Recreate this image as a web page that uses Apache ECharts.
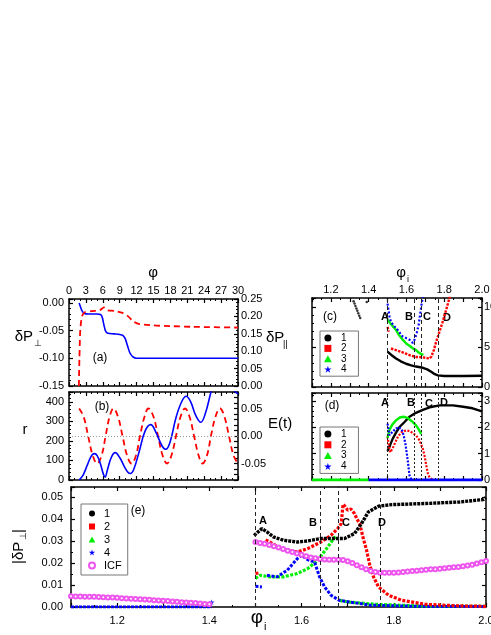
<!DOCTYPE html>
<html>
<head>
<meta charset="utf-8">
<script src="https://cdn.jsdelivr.net/npm/echarts@6/dist/echarts.min.js"></script>
<style>html,body{margin:0;padding:0;background:#fff}#chart{width:491px;height:635px}</style>
</head>
<body>
<div id="chart"></div>
<script>
// ---- values ----
// (a) delta P perp (left axis) and delta P parallel (right axis) vs phi
const aPerp = [[1.8,0.0],[2.0,-0.006],[2.3,-0.014],[2.7,-0.019],[3.5,-0.02],[5.0,-0.02],[5.6,-0.021],[5.9,-0.026],[6.2,-0.04],[6.5,-0.051],[6.9,-0.055],[8.0,-0.056],[9.0,-0.057],[9.6,-0.059],[10.0,-0.065],[10.4,-0.078],[10.8,-0.09],[11.3,-0.097],[12.0,-0.1],[16,-0.1],[30,-0.1]];
const aPar = [[1.75,0.0],[1.85,0.08],[2.0,0.16],[2.3,0.2],[2.8,0.212],[4,0.215],[5.5,0.218],[6.2,0.226],[6.8,0.218],[8,0.216],[9.5,0.21],[10.5,0.2],[11.5,0.185],[12.5,0.178],[15,0.174],[18,0.172],[22,0.17],[30,0.168]];
// (b) r (left) and E(t) (right)
const bR = [[1.8,0],[2.5,25],[3.3,80],[4.0,125],[4.5,135],[5.0,125],[5.6,80],[6.1,30],[6.4,15],[6.8,50],[7.5,115],[8.2,140],[9.0,115],[9.8,70],[10.5,38],[10.9,33],[11.5,55],[12.5,150],[13.5,250],[14.5,283],[15.5,240],[16.5,175],[17.2,157],[18,200],[19,320],[20,400],[20.8,428],[21.6,400],[22.5,330],[23.4,295],[24.2,340],[25.2,450],[26,530],[27,560],[28.3,505],[29.4,455],[30,440]];
const bE = [[1.8,0.05],[2.6,0.035],[3.4,0.0],[4.2,-0.035],[5.0,-0.05],[5.8,-0.035],[6.5,0.0],[7.2,0.035],[7.9,0.05],[8.7,0.035],[9.5,0.0],[10.3,-0.035],[11.1,-0.05],[11.9,-0.035],[12.6,0.0],[13.4,0.035],[14.1,0.05],[15.0,0.035],[15.8,0.0],[16.6,-0.035],[17.4,-0.05],[18.2,-0.035],[19.0,0.0],[19.8,0.035],[20.6,0.05],[21.4,0.035],[22.2,0.0],[23.0,-0.035],[23.7,-0.05],[24.5,-0.035],[25.2,0.0],[26.0,0.035],[26.8,0.05],[27.6,0.035],[28.4,0.0],[29.2,-0.035],[30,-0.05]];
// (c)
const cStray = [[1.32,10.7],[1.325,10.4],[1.33,10.1],[1.335,9.8],[1.34,9.5],[1.345,9.2],[1.35,8.9],[1.355,8.6],[1.39,10.6]];
const c1 = [[1.5,4.4],[1.52,4.0],[1.545,3.55],[1.57,3.2],[1.598,2.9],[1.625,2.7],[1.651,2.55],[1.687,2.4],[1.71,2.2],[1.731,1.9],[1.75,1.6],[1.766,1.45],[1.8,1.38],[1.9,1.38],[2.0,1.4]];
const c2 = [[1.5,7.5],[1.506,6.9],['-','-'],[1.518,4.8],[1.545,4.6],[1.57,4.4],[1.598,4.15],[1.625,3.9],[1.651,3.75],[1.687,3.7],[1.71,3.6],[1.722,3.55],[1.732,3.8],[1.745,4.6],[1.757,5.6],[1.772,6.7],[1.79,8.0],[1.81,9.6],[1.83,11.3]];
const c3 = [[1.5,8.4],[1.52,7.8],[1.545,7.1],[1.56,6.5],[1.58,5.9],[1.6,5.4],[1.616,5.15],[1.635,4.8],[1.651,4.6],[1.665,4.3],[1.678,4.1],[1.69,4.0]];
const c4 = [[1.5,10.4],[1.505,9.6],[1.51,8.8],[1.518,8.1],[1.535,7.6],[1.554,7.1],[1.57,6.6],[1.58,6.3],[1.598,6.1],[1.616,5.9],[1.634,5.5],[1.645,6.0],[1.655,6.8],[1.665,7.8],[1.672,9.0],[1.68,10.3],[1.687,11.3]];
// (d)
const d1 = [[1.5,1.1],[1.515,1.35],[1.527,1.56],[1.545,1.8],[1.562,2.0],[1.59,2.2],[1.616,2.4],[1.65,2.55],[1.687,2.66],[1.73,2.77],[1.775,2.83],[1.846,2.83],[1.9,2.78],[1.95,2.72],[2.0,2.6]];
const d2 = [[1.5,1.65],[1.507,1.3],[1.515,1.05],[1.53,1.25],[1.555,1.65],[1.575,1.82],[1.598,1.88],[1.62,1.85],[1.651,1.69],[1.67,1.5],[1.678,1.43],[1.688,1.15],[1.696,0.91],[1.705,0.55],[1.713,0.26],[1.722,0.1],[1.73,0.03],[1.74,0.0],[2.0,0.0]];
const d3 = [[1.5,1.6],[1.51,1.9],[1.525,2.1],[1.545,2.27],[1.565,2.37],[1.585,2.4],[1.605,2.36],[1.625,2.25],[1.65,2.08],[1.665,1.92],[1.678,1.75]];
const d4 = [[1.5,2.14],[1.505,1.9],[1.51,1.7],[1.52,1.75],[1.53,1.85],[1.545,1.95],[1.56,2.0],[1.575,1.92],[1.585,1.7],[1.595,1.35],[1.603,0.95],[1.61,0.55],[1.616,0.18],[1.625,0.03],[1.64,0.0],[2.0,0.0]];
const dBase3 = [[1.1,0],[1.4,0]];
const dBase4 = [[1.4,0],[2.0,0]];
// (e) |delta P perp|
const e1 = [[1.497,0.0325],[1.514,0.0356],[1.525,0.0341],[1.539,0.0318],[1.561,0.0303],[1.591,0.0295],[1.613,0.03],[1.642,0.0311],[1.664,0.0311],[1.693,0.0311],[1.715,0.0334],[1.73,0.0379],[1.745,0.0432],[1.767,0.0458],[1.796,0.0465],[1.869,0.047],[1.943,0.0477],[1.994,0.0488],[2.0,0.0497]];
const e2 = [[1.5,0.0152],[1.508,0.0155],['-','-'],[1.522,0.0305],[1.54,0.0285],[1.554,0.0265],[1.575,0.0255],[1.591,0.025],[1.613,0.0265],[1.642,0.0295],[1.664,0.0326],[1.678,0.0355],[1.686,0.0379],[1.69,0.0467],[1.695,0.0455],[1.70,0.044],[1.707,0.0445],[1.715,0.0424],[1.72,0.04],[1.726,0.0379],[1.734,0.0311],[1.741,0.0258],[1.748,0.019],[1.756,0.0137],[1.767,0.0091],[1.789,0.0053],[1.818,0.003],[1.869,0.0012],[1.943,0.0005],[2.0,0.0003]];
const e3 = [[1.5,0.013],[1.51,0.0144],[1.532,0.0137],[1.561,0.0137],[1.591,0.0152],[1.613,0.0174],[1.635,0.0212],[1.657,0.0273],[1.675,0.0326],['-','-'],[1.682,0.003],[1.70,0.0023],[1.76,0.0012],[1.85,0.0005],[2.0,0.0003]];
const e4 = [[1.5,0.0094],[1.514,0.0091],['-','-'],[1.525,0.0144],[1.547,0.0137],[1.569,0.0167],[1.591,0.022],[1.6,0.0235],[1.613,0.0215],[1.628,0.0205],[1.639,0.0137],[1.65,0.0091],[1.664,0.0053],[1.682,0.003],[1.75,0.0008],[1.85,0.0003],[2.0,0.0002]];
const eBase = [[1.1,0],[1.405,0]];
const eStar = [[1.405,0.0022]];
const eICF = [
  [1.10,0.0049],[1.11,0.0048],[1.12,0.0048],[1.13,0.0047],[1.14,0.0047],[1.15,0.0046],[1.16,0.0045],[1.17,0.0044],[1.18,0.0043],[1.19,0.0043],
  [1.20,0.0042],[1.21,0.0040],[1.22,0.0039],[1.23,0.0037],[1.24,0.0036],[1.25,0.0035],[1.26,0.0034],[1.27,0.0033],[1.28,0.0031],[1.29,0.0030],
  [1.30,0.0028],[1.31,0.0027],[1.32,0.0025],[1.33,0.0024],[1.34,0.0022],[1.35,0.0021],[1.36,0.0019],[1.37,0.0018],[1.38,0.0016],[1.39,0.0014],[1.40,0.0012],
  ['-','-'],
  [1.50,0.0295],[1.51,0.0291],[1.52,0.0287],[1.53,0.0282],[1.54,0.0276],[1.55,0.0270],[1.56,0.0263],[1.57,0.0256],[1.58,0.0250],[1.59,0.0243],
  [1.60,0.0237],[1.61,0.0230],[1.62,0.0225],[1.63,0.0221],[1.64,0.0218],[1.65,0.0216],[1.66,0.0215],[1.67,0.0215],[1.68,0.0215],[1.69,0.0213],
  [1.70,0.0208],[1.71,0.0200],[1.72,0.0190],[1.73,0.0180],[1.74,0.0171],[1.75,0.0164],[1.76,0.0159],[1.77,0.0156],[1.78,0.0155],[1.79,0.0155],
  [1.80,0.0156],[1.81,0.0157],[1.82,0.0159],[1.83,0.0161],[1.84,0.0163],[1.85,0.0165],[1.86,0.0167],[1.87,0.0169],[1.88,0.0171],[1.89,0.0172],
  [1.90,0.0174],[1.91,0.0176],[1.92,0.0178],[1.93,0.0180],[1.94,0.0182],[1.95,0.0185],[1.96,0.0188],[1.97,0.0192],[1.98,0.0197],[1.99,0.0203],[2.00,0.0209]
];
// A, B, C, D marker positions
const vLines = [1.5, 1.64, 1.68, 1.766];

const FONT = '"Liberation Sans", Arial, sans-serif';
const BLUE = '#0000ff', RED = '#ff0000', GREEN = '#00ee00', MAG = '#ee55ee';
const STAR = 'path://M50,0 L61,35 L98,35 L68,57 L79,91 L50,70 L21,91 L32,57 L2,35 L39,35 Z';
const SQUARE = 'path://M0,0 L10,0 L10,10 L0,10 Z';
const TRI = 'path://M5,0 L10,9 L0,9 Z';

function onStep(v, step) { const r = v / step; return Math.abs(r - Math.round(r)) < 1e-6; }
function fmt(step, dec) {
  return v => onStep(v, step) ? (Math.abs(v) < 1e-9 ? 0 : v).toFixed(dec) : '';
}
function vAxis(grid, pos, min, max, interval, minor, label, margin) {
  return {
    type: 'value', gridIndex: grid, position: pos, min: min, max: max, interval: interval,
    axisLine: { show: true, onZero: false, lineStyle: { color: '#000', width: 1.5 } },
    axisTick: { show: true, inside: true, length: 4, lineStyle: { color: '#000', width: 1.2 } },
    minorTick: { show: minor > 0, splitNumber: minor || 2, length: 2, lineStyle: { color: '#000', width: 1 } },
    splitLine: { show: false },
    axisLabel: label ? { show: true, formatter: label, fontSize: 11, fontFamily: FONT, color: '#000', margin: margin || 4 } : { show: false }
  };
}

const chart = echarts.init(document.getElementById('chart'));

const grids = [
  { left: 69, top: 299, width: 169, height: 87 },
  { left: 69, top: 392, width: 169, height: 88 },
  { left: 312, top: 298, width: 170, height: 89 },
  { left: 312, top: 393, width: 170, height: 87 },
  { left: 71, top: 487, width: 415, height: 120 }
].map(g => Object.assign({ containLabel: false, outerBoundsMode: 'none' }, g));

const xAxes = [
  vAxis(0, 'top', 0, 30, 3, 3, fmt(3, 0), 3),
  vAxis(0, 'bottom', 0, 30, 3, 3, null),
  vAxis(1, 'bottom', 0, 30, 3, 3, null),
  vAxis(1, 'top', 0, 30, 3, 3, null),
  vAxis(2, 'top', 1.1, 2.0, 0.1, 2, fmt(0.2, 1), 3),
  vAxis(2, 'bottom', 1.1, 2.0, 0.1, 2, null),
  vAxis(3, 'top', 1.1, 2.0, 0.1, 2, null),
  vAxis(3, 'bottom', 1.1, 2.0, 0.1, 2, null),
  vAxis(4, 'bottom', 1.1, 2.0, 0.1, 2, fmt(0.2, 1), 8),
  vAxis(4, 'top', 1.1, 2.0, 0.1, 2, null)
];
const yAxes = [
  vAxis(0, 'left', -0.15, 0.007, 0.05, 5, fmt(0.05, 2), 5),
  vAxis(0, 'right', 0, 0.25, 0.05, 5, fmt(0.05, 2), 3),
  vAxis(1, 'left', 0, 450, 100, 5, fmt(100, 0), 5),
  vAxis(1, 'right', -0.08, 0.08, 0.01, 0, fmt(0.05, 2), 3),
  vAxis(2, 'left', 0, 11.1, 5, 5, null),
  vAxis(2, 'right', 0, 11.1, 5, 5, fmt(5, 0), 2),
  vAxis(3, 'left', 0, 3.3, 1, 5, null),
  vAxis(3, 'right', 0, 3.3, 1, 5, fmt(1, 0), 2),
  vAxis(4, 'left', 0, 0.0545, 0.01, 2, fmt(0.01, 2), 8),
  vAxis(4, 'right', 0, 0.0545, 0.01, 2, null)
];

function line(name, data, x, y, color, width, dash, extra) {
  return Object.assign({
    type: 'line', name: name, data: data, xAxisIndex: x, yAxisIndex: y,
    showSymbol: false, symbol: 'circle', color: color, clip: true,
    lineStyle: { color: color, width: width, type: dash || 'solid' }
  }, extra || {});
}
function vMarks(dash) {
  return {
    silent: true, symbol: 'none', label: { show: false },
    lineStyle: { color: '#222', width: 1, type: dash },
    data: vLines.map(v => ({ xAxis: v }))
  };
}

const series = [
  line('aPerp', aPerp, 0, 0, BLUE, 1.6, 'solid', { smooth: 0.25 }),
  line('aPar', aPar, 0, 1, RED, 1.8, [6, 4], { smooth: 0.25 }),
  line('bE', bE, 2, 3, RED, 1.8, [6, 4], {
    smooth: 0.4,
    markLine: { silent: true, symbol: 'none', label: { show: false }, lineStyle: { color: '#999', width: 1, type: [1, 2] }, data: [{ yAxis: 0 }] }
  }),
  line('bR', bR, 2, 2, BLUE, 1.6, 'solid', { smooth: 0.4 }),

  { type: 'scatter', name: 'cStray', data: cStray, xAxisIndex: 4, yAxisIndex: 4, symbolSize: 2.5, itemStyle: { color: '#000' } },
  line('1', c1, 4, 4, '#000', 2.4, 'solid', { markLine: vMarks([4, 3]) }),
  line('2', c2, 4, 4, RED, 2.4, [2.5, 1.2]),
  line('3', c3, 4, 4, GREEN, 2.4, 'solid'),
  line('4', c4, 4, 4, BLUE, 2.2, [2, 2]),

  line('1', d1, 6, 6, '#000', 2.4, 'solid', { markLine: vMarks([2, 2]) }),
  line('2', d2, 6, 6, RED, 2.2, [2, 1.5]),
  line('3', d3, 6, 6, GREEN, 2.4, 'solid'),
  line('dBase3', dBase3, 6, 6, GREEN, 3, 'solid'),
  line('4', d4, 6, 6, BLUE, 2.2, [2, 1.5]),
  line('dBase4', dBase4, 6, 6, BLUE, 3, 'solid'),

  line('ICF', eICF, 8, 8, MAG, 0, 'solid', {
    showSymbol: true, symbol: 'emptyCircle', symbolSize: 4,
    itemStyle: { color: MAG, borderWidth: 0.8 }, lineStyle: { width: 0, opacity: 0 }
  }),
  line('3', e3, 8, 8, GREEN, 3.2, [3, 1.5], { markLine: vMarks([4, 3]) }),
  line('4', e4, 8, 8, BLUE, 3, [3, 1.5]),
  line('2', e2, 8, 8, RED, 3.2, [3, 1.5]),
  line('1', e1, 8, 8, '#000', 3.4, [3, 1]),
  line('eBase', eBase, 8, 8, BLUE, 3, [3, 1]),
  { type: 'scatter', name: 'eStar', data: eStar, xAxisIndex: 8, yAxisIndex: 8, symbol: STAR, symbolSize: 6, itemStyle: { color: BLUE } }
];

function legendBox(left, top, w, h, gap, fs, pad, items) {
  return {
    orient: 'vertical', left: left, top: top, itemWidth: w, itemHeight: h, itemGap: gap,
    padding: pad, borderColor: '#777', borderWidth: 1, backgroundColor: '#fff',
    selectedMode: false, symbolKeepAspect: true,
    textStyle: { fontSize: fs, fontFamily: FONT, color: '#000' },
    data: items
  };
}
const cdItems = [
  { name: '1', icon: 'circle', itemStyle: { color: '#000' } },
  { name: '2', icon: SQUARE, itemStyle: { color: RED } },
  { name: '3', icon: TRI, itemStyle: { color: GREEN } },
  { name: '4', icon: STAR, itemStyle: { color: BLUE } }
];
const eItems = [
  { name: '1', icon: 'circle', itemStyle: { color: '#000' } },
  { name: '2', icon: SQUARE, itemStyle: { color: RED } },
  { name: '3', icon: TRI, itemStyle: { color: GREEN } },
  { name: '4', icon: STAR, itemStyle: { color: BLUE } },
  { name: 'ICF', icon: 'emptyCircle', itemStyle: { color: MAG } }
];
const legends = [
  legendBox(320, 331, 16, 7, 0.4, 10, [2, 12, 2, 4], cdItems),
  legendBox(320, 427, 16, 7, 0.8, 10, [2, 12, 2, 4], cdItems),
  legendBox(81, 504, 14, 6, 2, 11, [4, 6, 4, 7], eItems)
];

function txt(x, y, s, size, extra) {
  return {
    type: 'text', x: x, y: y, silent: true,
    style: Object.assign({ text: s, font: (extra && extra.bold ? 'bold ' : '') + size + 'px ' + FONT, fill: '#000', align: 'center', verticalAlign: 'middle' }, extra && extra.style)
  };
}
const L = { style: { align: 'left' } }, R = { style: { align: 'right' } };
const graphics = [
  txt(153, 273, 'φ', 15),
  txt(401, 273, 'φ', 15), txt(407, 280, 'i', 9, L),
  txt(257, 618, 'φ', 19), txt(264, 627, 'i', 11, L),
  txt(33, 337, 'δP', 15, R), txt(34, 344, '⊥', 9, L),
  txt(266, 338, 'δP', 15, L), txt(283, 345, '||', 9, L),
  txt(25, 430, 'r', 15),
  txt(268, 424, 'E(t)', 15, L),
  txt(100, 358, '(a)', 12), txt(102, 407, '(b)', 12), txt(330, 317, '(c)', 12),
  txt(332, 406, '(d)', 12), txt(138, 511, '(e)', 12),
  txt(385, 317, 'A', 11, { bold: true }), txt(409, 317, 'B', 11, { bold: true }),
  txt(427, 317, 'C', 11, { bold: true }), txt(447, 318, 'D', 11, { bold: true }),
  txt(385, 403, 'A', 11, { bold: true }), txt(411, 403, 'B', 11, { bold: true }),
  txt(429, 404, 'C', 11, { bold: true }), txt(444, 403, 'D', 11, { bold: true }),
  txt(263, 521, 'A', 11, { bold: true }), txt(313, 523, 'B', 11, { bold: true }),
  txt(346, 523, 'C', 11, { bold: true }), txt(382, 523, 'D', 11, { bold: true }),
  {
    type: 'group', x: 19, y: 547, rotation: Math.PI / 2, silent: true,
    children: [
      txt(-17, 0, '|δP', 15, L),
      txt(7, 5, '⊥', 9, L),
      txt(14, 0, '|', 15, L)
    ]
  }
];

chart.setOption({
  animation: false,
  backgroundColor: '#fff',
  grid: grids,
  xAxis: xAxes,
  yAxis: yAxes,
  legend: legends,
  series: series,
  graphic: graphics
});
</script>
</body>
</html>
